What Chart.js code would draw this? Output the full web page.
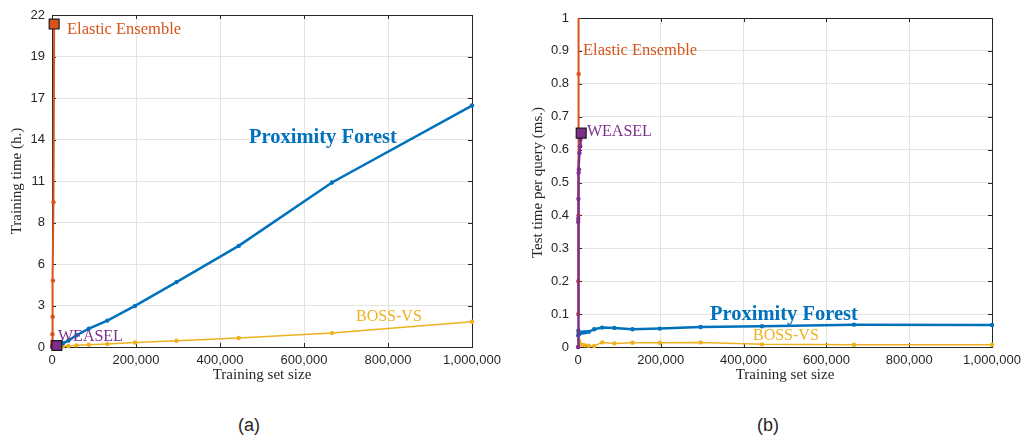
<!DOCTYPE html>
<html>
<head>
<meta charset="utf-8">
<script src="https://cdn.jsdelivr.net/npm/chart.js@4.4.1/dist/chart.umd.min.js"></script>
<style>
body{margin:0;background:#fff;width:1021px;height:442px;position:relative;overflow:hidden;font-family:"Liberation Sans",Arial,sans-serif;}
#chartA{position:absolute;left:0;top:0;}
#chartB{position:absolute;left:500px;top:0;}
.cap{position:absolute;top:415px;width:60px;line-height:20px;font-size:18px;color:#262626;text-align:center;}
</style>
</head>
<body>
<canvas id="chartA" width="520" height="392"></canvas>
<canvas id="chartB" width="545" height="392"></canvas>
<div class="cap" style="left:219px">(a)</div>
<div class="cap" style="left:738px">(b)</div>
<script>
// (a) training time in hours
var eeTrainX = [451, 677, 1015, 1523, 2284, 3425, 5138];
var eeTrainY = [0.17, 0.37, 0.85, 2.0, 4.4, 9.6, 21.4];
var pfTrainX = [1015, 2284, 5138, 11561, 17342, 26012, 39018, 58528, 87791, 131687, 197531, 296296, 444444, 666667, 1000000];
var pfTrainY = [0.01, 0.03, 0.06, 0.1, 0.16, 0.25, 0.42, 0.78, 1.22, 1.75, 2.72, 4.3, 6.7, 10.9, 16.0];
var bossTrainX = [1015, 2284, 5138, 11561, 17342, 26012, 39018, 58528, 87791, 131687, 197531, 296296, 444444, 666667, 1000000];
var bossTrainY = [0, 0.005, 0.01, 0.02, 0.03, 0.04, 0.07, 0.11, 0.15, 0.2, 0.3, 0.41, 0.6, 0.92, 1.67];
var weaselTrainX = [451, 1015, 2284, 5138, 11561];
var weaselTrainY = [0, 0.01, 0.02, 0.05, 0.1];

// (b) test time per query in ms
var eeTestX = [451, 677, 1015, 1523, 2284];
var eeTestY = [0.1, 0.2, 0.4, 0.83, 1.8];
var pfTestX = [451, 1015, 2284, 5138, 11561, 17342, 26012, 39018, 58528, 87791, 131687, 197531, 296296, 444444, 666667, 1000000];
var pfTestY = [0.035, 0.05, 0.04, 0.042, 0.044, 0.045, 0.046, 0.054, 0.059, 0.058, 0.054, 0.056, 0.061, 0.063, 0.068, 0.067];
var bossTestX = [451, 1015, 2284, 5138, 11561, 17342, 26012, 39018, 58528, 87791, 131687, 197531, 296296, 444444, 666667, 1000000];
var bossTestY = [0, 0.045, 0.02, 0.01, 0.006, 0.005, 0.004, 0.003, 0.014, 0.011, 0.013, 0.013, 0.014, 0.008, 0.007, 0.007];
var weaselTestX = [300, 451, 677, 1015, 1523, 2284, 3425, 5138, 6000, 7707];
var weaselTestY = [0, 0.38, 0.39, 0.45, 0.53, 0.54, 0.59, 0.61, 0.63, 0.65];

var xTicks = [0, 200000, 400000, 600000, 800000, 1000000];

var BLUE = '#0072BD', ORANGE = '#D95319', YELLOW = '#EDB120', PURPLE = '#7E2F8E';
var SANS = '"Liberation Sans", Arial, sans-serif';
var SERIF = '"Liberation Serif", "Times New Roman", serif';
var INK = '#262626';

function series(xs, ys, color, width, order, square) {
    var pts = xs.map(function (x, i) { return {x: x, y: ys[i]}; });
    var last = pts.length - 1;
    return {
        data: pts,
        showLine: true,
        order: order,
        borderColor: color,
        backgroundColor: color,
        borderWidth: width,
        pointRadius: pts.map(function (p, i) { return square && i === last ? 7 : 2.2; }),
        pointStyle: pts.map(function (p, i) { return square && i === last ? 'rect' : 'circle'; }),
        pointBorderColor: pts.map(function (p, i) { return square && i === last ? '#1a1a1a' : color; }),
        pointBorderWidth: pts.map(function (p, i) { return square && i === last ? 1.2 : 0; }),
        clip: {left: 8, top: 0, right: 8, bottom: 8}
    };
}

// matlab style box with inward ticks, plus the text labels next to the curves
var boxPlugin = {
    id: 'box',
    beforeDatasetsDraw: function (chart) {
        var ctx = chart.ctx, a = chart.chartArea;
        var sx = chart.scales.x, sy = chart.scales.y;
        ctx.save();
        ctx.strokeStyle = INK;
        ctx.lineWidth = 1;
        ctx.beginPath();
        sx.ticks.forEach(function (t) {
            var px = Math.round(sx.getPixelForValue(t.value)) + 0.5;
            ctx.moveTo(px, a.bottom); ctx.lineTo(px, a.bottom - 4);
            ctx.moveTo(px, a.top); ctx.lineTo(px, a.top + 4);
        });
        sy.ticks.forEach(function (t) {
            var py = Math.round(sy.getPixelForValue(t.value)) + 0.5;
            ctx.moveTo(a.left, py); ctx.lineTo(a.left + 4, py);
            ctx.moveTo(a.right, py); ctx.lineTo(a.right - 4, py);
        });
        ctx.stroke();
        ctx.strokeRect(Math.round(a.left) + 0.5, Math.round(a.top) + 0.5, Math.round(a.right - a.left), Math.round(a.bottom - a.top));
        ctx.restore();
    },
    afterDatasetsDraw: function (chart, args, opts) {
        var ctx = chart.ctx;
        var sx = chart.scales.x, sy = chart.scales.y;
        ctx.save();
        ctx.textAlign = 'left';
        ctx.textBaseline = 'middle';
        (opts.labels || []).forEach(function (l) {
            ctx.font = (l.bold ? 'bold ' : '') + l.size + 'px ' + SERIF;
            ctx.fillStyle = l.color;
            ctx.fillText(l.text, sx.getPixelForValue(l.x), sy.getPixelForValue(l.y));
        });
        ctx.restore();
    }
};

function makeChart(id, datasets, y, yTitle, pad, labels) {
    return new Chart(document.getElementById(id), {
        type: 'scatter',
        data: {datasets: datasets},
        options: {
            responsive: false,
            animation: false,
            events: [],
            layout: {padding: {top: pad.top, right: pad.right, left: 0, bottom: 0}},
            plugins: {legend: {display: false}, tooltip: {enabled: false}, box: {labels: labels}},
            scales: {
                x: {
                    type: 'linear', min: 0, max: 1000000,
                    afterBuildTicks: function (s) { s.ticks = xTicks.map(function (v) { return {value: v}; }); },
                    ticks: {padding: 6, color: INK, maxRotation: 0, font: {family: SANS, size: 13},
                        callback: function (v) { return v.toLocaleString('en-US'); }},
                    grid: {color: '#e3e3e3', drawTicks: false},
                    border: {display: false},
                    title: {display: true, text: 'Training set size', color: INK, font: {family: SERIF, size: 15},
                        padding: {top: 0, bottom: 8}},
                    afterFit: function (s) { s.height = 45; }
                },
                y: {
                    type: 'linear', min: y.min, max: y.max,
                    ticks: {stepSize: y.step, padding: pad.tick, color: INK, font: {family: SANS, size: 13},
                        callback: y.format},
                    grid: {color: '#e3e3e3', drawTicks: false},
                    border: {display: false},
                    title: {display: true, text: yTitle, color: INK, font: {family: SERIF, size: 15},
                        padding: {top: pad.title, bottom: 0}},
                    afterFit: function (s) { s.width = pad.left; }
                }
            }
        },
        plugins: [boxPlugin]
    });
}

makeChart('chartA', [
    series(weaselTrainX, weaselTrainY, PURPLE, 2, 0, true),
    series(eeTrainX, eeTrainY, ORANGE, 2, 1, true),
    series(pfTrainX, pfTrainY, BLUE, 2.5, 2, false),
    series(bossTrainX, bossTrainY, YELLOW, 1.5, 3, false)
], {min: 0, max: 22, step: 2.75, format: function (v) { return Math.round(v); }},
'Training time (h.)', {top: 15, right: 48, left: 52, tick: 7, title: 8.5}, [
    {text: 'Elastic Ensemble', x: 35700, y: 21.0, color: ORANGE, size: 16.5},
    {text: 'Proximity Forest', x: 469000, y: 13.87, color: BLUE, size: 20.5, bold: true},
    {text: 'BOSS-VS', x: 723800, y: 2.0, color: YELLOW, size: 16},
    {text: 'WEASEL', x: 14300, y: 0.67, color: PURPLE, size: 16}
]);

makeChart('chartB', [
    series(weaselTestX, weaselTestY, PURPLE, 2.5, 0, true),
    series(eeTestX, eeTestY, ORANGE, 2, 1, false),
    series(pfTestX, pfTestY, BLUE, 2.5, 2, false),
    series(bossTestX, bossTestY, YELLOW, 1.5, 3, false)
], {min: 0, max: 1, step: 0.1, format: function (v) { return String(Math.round(v * 10) / 10); }},
'Test time per query (ms.)', {top: 18, right: 53, left: 78, tick: 9, title: 29}, [
    {text: 'Elastic Ensemble', x: 12080, y: 0.902, color: ORANGE, size: 16.5},
    {text: 'WEASEL', x: 21700, y: 0.653, color: PURPLE, size: 16},
    {text: 'Proximity Forest', x: 318800, y: 0.099, color: BLUE, size: 20.5, bold: true},
    {text: 'BOSS-VS', x: 422700, y: 0.034, color: YELLOW, size: 16}
]);
</script>
</body>
</html>
